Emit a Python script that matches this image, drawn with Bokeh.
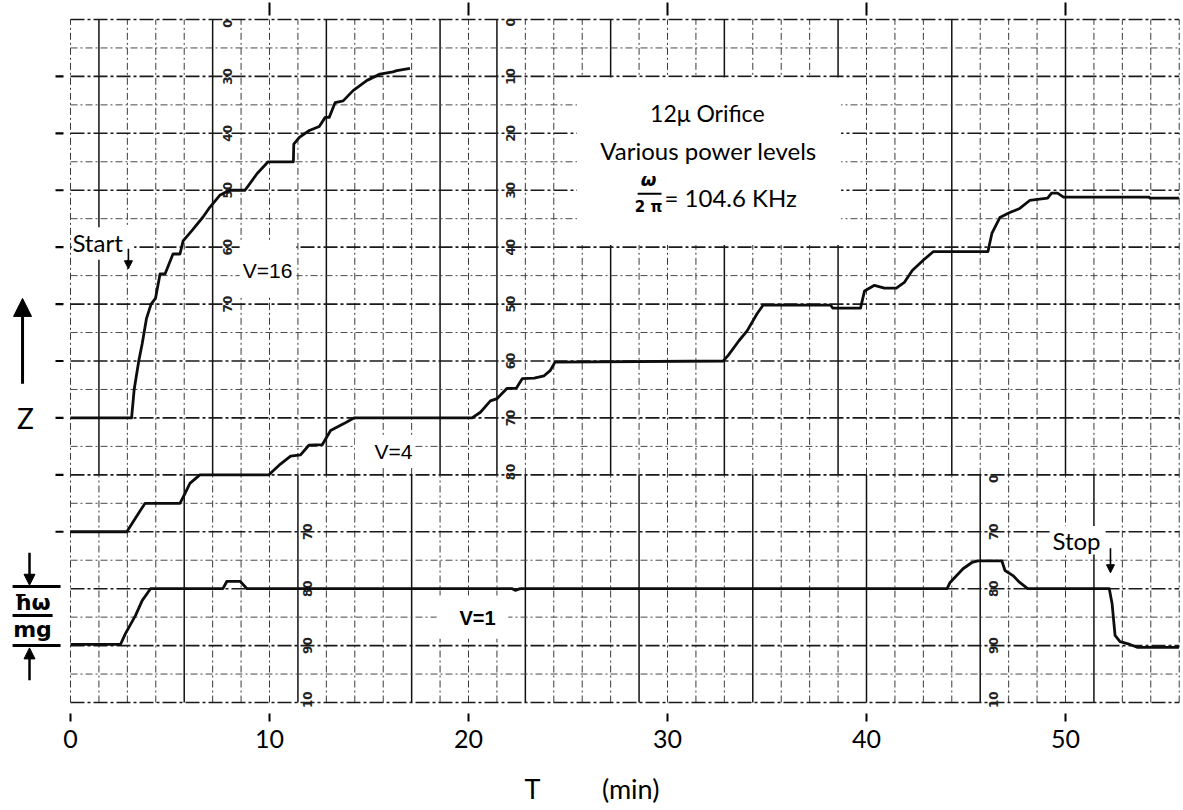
import math
from bokeh.plotting import figure
from bokeh.models import Range1d, FixedTicker, Arrow, NormalHead
from bokeh.core.properties import value
from bokeh.embed import file_html
from bokeh.resources import INLINE

# ---------------- data ----------------
# T in minutes, Z in units of hbar*omega/(m g)
v16_t = [0, 3.07, 3.2, 3.43, 3.6, 3.82, 4.05, 4.27, 4.5, 4.75, 5.15, 5.5, 5.66, 6.1, 6.66, 7.0,
         7.5, 8.0, 8.77, 9.37, 9.93, 11.2, 11.22, 11.5, 12.0, 12.5, 12.8, 13.0, 13.3, 13.7,
         14.2, 14.9, 15.55, 16.2, 16.4, 17.06]
v16_z = [4.0, 4.0, 4.5, 5.0, 5.3, 5.75, 6.0, 6.1, 6.53, 6.53, 6.88, 6.88, 7.11, 7.29, 7.53, 7.7,
         7.91, 8.0, 8.0, 8.29, 8.5, 8.5, 8.81, 8.93, 9.05, 9.12, 9.28, 9.28, 9.54, 9.57,
         9.75, 9.93, 10.04, 10.08, 10.1, 10.14]

v4_t = [0, 2.83, 3.5, 3.75, 5.5, 5.75, 6.0, 6.5, 9.97, 10.55, 11.06, 11.56, 11.98, 12.65, 13.07,
        13.74, 14.24, 20.18, 20.6, 21.1, 21.44, 21.94, 22.4, 22.7, 23.3, 23.8, 24.1, 24.35,
        32.8, 33.05, 33.6, 34.0, 34.5, 34.8, 38.2, 38.3, 39.7, 39.9, 40.4, 40.9, 41.5, 41.9,
        42.3, 42.85, 43.35, 46.1, 46.3, 46.7, 47.2, 47.7, 48.2, 49.1, 49.3, 49.6, 49.9, 54.2,
        54.25, 55.7]
v4_z = [2.0, 2.0, 2.37, 2.5, 2.5, 2.67, 2.85, 3.0, 3.0, 3.19, 3.33, 3.35, 3.52, 3.53, 3.78,
        3.9, 4.0, 4.0, 4.1, 4.3, 4.34, 4.52, 4.52, 4.69, 4.7, 4.74, 4.83, 4.98,
        5.0, 5.1, 5.36, 5.53, 5.83, 5.98, 5.98, 5.93, 5.93, 6.23, 6.33, 6.28, 6.28, 6.38,
        6.59, 6.77, 6.92, 6.92, 7.24, 7.52, 7.61, 7.68, 7.82, 7.86, 7.95, 7.95, 7.88, 7.88,
        7.86, 7.86]

v1_t = [0, 2.51, 2.76, 3.27, 3.6, 4.02, 7.66, 7.86, 8.52, 8.87, 22.2, 22.35, 22.6, 44.05, 44.2,
        44.45, 44.85, 45.3, 45.6, 46.8, 46.96, 47.36, 47.7, 48.1, 52.2, 52.34, 52.49, 52.74,
        53.24, 53.6, 55.7]
v1_z = [0.02, 0.02, 0.21, 0.53, 0.79, 1.0, 1.0, 1.13, 1.13, 1.0, 1.0, 0.97, 1.0, 1.0, 1.11,
        1.2, 1.35, 1.46, 1.49, 1.49, 1.32, 1.23, 1.11, 1.0, 1.0, 0.74, 0.18, 0.07,
        0.02, -0.03, -0.03]

x_ticks = [0, 10, 20, 30, 40, 50]
x_tick_labels = {0: "0", 10: "10", 20: "20", 30: "30", 40: "40", 50: "50"}
z_ticks = [2, 3, 4, 5, 6, 7, 8, 9, 10]

# printed chart-paper scale numbers (one column per paper strip)
scale_ul_z = [10.93, 10, 9, 8, 7, 6]
scale_ul_txt = ["0", "30", "40", "50", "60", "70"]
scale_mid_z = [10.95, 10, 9, 8, 7, 6, 5, 4, 3.05]
scale_mid_txt = ["0", "10", "20", "30", "40", "50", "60", "70", "80"]
scale_ll_z = [2, 1, 0, -0.95]
scale_ll_txt = ["70", "80", "90", "10"]
scale_lr_z = [2.93, 2, 1, 0, -0.95]
scale_lr_txt = ["0", "70", "80", "90", "10"]

# ---------------- figure ----------------
PXM = 19.9                 # pixels per minute
PXZ = 56.92                # pixels per Z unit
FRAME_W, FRAME_H = 1183, 713
T_LEFT = -70.0 / PXM
Z_TOP = 645.1 / PXZ
p = figure(frame_width=FRAME_W, frame_height=FRAME_H, output_backend="svg",
           toolbar_location=None,
           x_range=Range1d(T_LEFT, T_LEFT + FRAME_W / PXM),
           y_range=Range1d(Z_TOP - FRAME_H / PXZ, Z_TOP),
           y_axis_location=None, min_border_left=0, min_border_right=0,
           min_border_top=0, min_border_bottom=96)
p.outline_line_color = None
p.grid.visible = False
p.background_fill_color = "white"

ax = p.xaxis[0]
ax.ticker = FixedTicker(ticks=x_ticks)
ax.major_label_overrides = x_tick_labels
ax.axis_line_color = None
ax.major_tick_out = 8
ax.major_tick_in = 0
ax.major_tick_line_width = 2
ax.major_tick_line_color = "black"
ax.minor_tick_line_color = None
ax.major_label_text_font = "Lato"
ax.major_label_text_font_size = "25px"
ax.major_label_text_color = "black"
ax.major_label_standoff = 8
ax.axis_label = "T" + "\u00a0" * 9 + "(min)"
ax.axis_label_text_font = "Lato"
ax.axis_label_text_font_size = "27px"
ax.axis_label_text_font_style = "normal"
ax.axis_label_text_color = "black"
ax.axis_label_standoff = 21

# ---------------- chart paper grid ----------------
GSTEP = 10.0 / 7.0
NK = 40
sx0, sx1, sy0, sy1 = [], [], [], []
dx0, dx1, dy0, dy1 = [], [], [], []
for k in range(NK):
    t = k * GSTEP
    edge = k == 0 or k == NK - 1
    up_solid = (not edge) and ((k < 15 and k % 4 == 1) or (k >= 15 and k % 4 == 3))
    lo_solid = (not edge) and (k % 4 == 0)
    for (za, zb, solid) in ((3, 11, up_solid), (-1, 3, lo_solid)):
        if solid:
            sx0.append(t); sx1.append(t); sy0.append(za); sy1.append(zb)
        else:
            dx0.append(t); dx1.append(t); dy0.append(za); dy1.append(zb)
T_END = (NK - 1) * GSTEP
p.segment(dx0, dy0, dx1, dy1, line_color="#3a3a3a", line_width=1, line_dash="7 3 2 3")
p.segment(sx0, sy0, sx1, sy1, line_color="#111111", line_width=1.5)

hz_major = [z for z in range(-1, 12)]
hz_minor = [z + 0.5 for z in range(-1, 11)]
p.segment([0] * len(hz_minor), hz_minor, [T_END] * len(hz_minor), hz_minor,
          line_color="#4a4a4a", line_width=1, line_dash="7 3 2 3")
p.segment([0] * len(hz_major), hz_major, [T_END] * len(hz_major), hz_major,
          line_color="#1a1a1a", line_width=1.6, line_dash="14 3 3 3")

# blank paper patches behind the labels
box_l = [25.45, 8.5, 14.3, 18.4, 0.06, 49.2]
box_r = [38.72, 11.35, 17.3, 22.0, 3.2, 52.0]
box_b = [7.04, 6.15, 3.12, 0.12, 6.78, 1.6]
box_t = [9.98, 7.08, 3.68, 0.88, 7.35, 2.1]
p.quad(left=box_l, right=box_r, bottom=box_b, top=box_t, fill_color="white", line_color=None)

# printed scale numbers on the paper
def scale_col(t, zs, txts):
    p.text(x=[t] * len(zs), y=zs, text=txts, angle=math.pi / 2, text_align="center",
           text_baseline="middle", text_font=value("DejaVu Sans"), text_font_size="12px",
           text_font_style="bold", text_color="#222222")

scale_col(7.89, scale_ul_z, scale_ul_txt)
scale_col(22.11, scale_mid_z, scale_mid_txt)
scale_col(11.91, scale_ll_z, scale_ll_txt)
scale_col(46.38, scale_lr_z, scale_lr_txt)

# ---------------- traces ----------------
for tt, zz in ((v16_t, v16_z), (v4_t, v4_z), (v1_t, v1_z)):
    p.line(tt, zz, line_color="#0d0d0d", line_width=2.8, line_join="round")

# ---------------- tick marks on top and left ----------------
top_t = [10, 20, 30, 40, 50]
p.segment(top_t, [11.30] * 5, top_t, [11.07] * 5, line_color="black", line_width=2)
p.segment([-0.754] * len(z_ticks), z_ticks, [-0.352] * len(z_ticks), z_ticks,
          line_color="black", line_width=2.2)

# ---------------- annotations ----------------
def txt(x, y, s, size, font="Lato", style="normal", align="center"):
    p.text(x=[x], y=[y], text=[s], text_align=align, text_baseline="middle",
           text_font=value(font), text_font_size=size, text_font_style=style,
           text_color="black")

txt(1.36, 7.08, "Start", "24px")
txt(50.55, 1.85, "Stop", "24px")
txt(9.9, 6.59, "V=16", "21px", font="Liberation Sans")
txt(16.23, 3.41, "V=4", "21px", font="Liberation Sans")
txt(20.45, 0.48, "V=1", "20px", font="Liberation Sans", style="bold")

txt(32.0, 9.35, "12\u03bc Orifice", "23px")
txt(32.06, 8.70, "Various power levels", "24px")
txt(29.05, 8.18, "\u03c9", "18px", font="DejaVu Sans", style="bold italic")
p.segment([28.5], [7.94], [29.7], [7.94], line_color="black", line_width=2)
txt(29.05, 7.70, "2 \u03c0", "15px", font="DejaVu Sans", style="bold")
txt(29.85, 7.87, "= 104.6  KHz", "24px", align="left")

for (ts, zs, te, ze) in ((2.91, 6.97, 2.91, 6.62), (52.26, 1.71, 52.26, 1.28)):
    p.add_layout(Arrow(end=NormalHead(size=8, fill_color="black", line_color="black"),
                       x_start=ts, y_start=zs, x_end=te, y_end=ze,
                       line_color="black", line_width=1.6))

# left margin: Z arrow and hbar*omega/mg scale
txt(-2.26, 4.0, "Z", "28px")
p.add_layout(Arrow(end=NormalHead(size=18, fill_color="black", line_color="black"),
                   x_start=-2.41, y_start=4.6, x_end=-2.41, y_end=6.1,
                   line_color="black", line_width=3))
p.segment([-2.91, -2.91, -2.91], [1.04, 0.0, 0.53], [-0.5, -0.5, -0.9], [1.04, 0.0, 0.53],
          line_color="black", line_width=3)
txt(-1.91, 0.75, "\u0127\u03c9", "22px", font="DejaVu Sans", style="bold")
txt(-1.91, 0.29, "mg", "22px", font="DejaVu Sans", style="bold")
for (zs, ze) in ((1.63, 1.06), (-0.61, -0.04)):
    p.add_layout(Arrow(end=NormalHead(size=11, fill_color="black", line_color="black"),
                       x_start=-2.06, y_start=zs, x_end=-2.06, y_end=ze,
                       line_color="black", line_width=2.5))

open("out.html", "w").write(file_html(p, INLINE))
